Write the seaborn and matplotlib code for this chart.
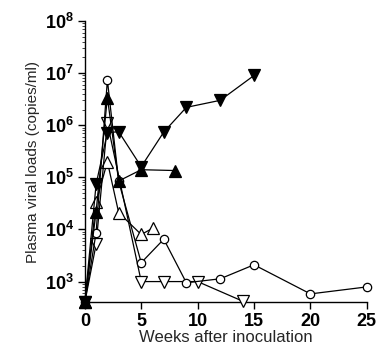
import matplotlib
matplotlib.use("Agg")
import matplotlib.pyplot as plt
import matplotlib.ticker as mticker
import seaborn as sns
import pandas as pd

# weeks / plasma viral load (copies/ml) per animal
CIRCLE_WEEKS = [0, 1, 2, 3, 5, 7, 9, 12, 15, 20, 25]
CIRCLE_LOAD = [400, 8.7e3, 7.4e6, 8.4e4, 2.3e3, 6.5e3, 950, 1130, 2100, 580, 790]

FDOWN_WEEKS = [0, 1, 2, 3, 5, 7, 9, 12, 15]
FDOWN_LOAD = [400, 7.4e4, 7.2e5, 7.5e5, 1.6e5, 7.4e5, 2.2e6, 3.0e6, 9.0e6]

FUP_WEEKS = [0, 1, 2, 3, 5, 8]
FUP_LOAD = [400, 2.2e4, 3.4e6, 8.5e4, 1.4e5, 1.35e5]

ODOWN_WEEKS = [0, 1, 2, 5, 7, 10, 14]
ODOWN_LOAD = [400, 5.2e3, 1.1e6, 1000, 1000, 1000, 420]

OUP_WEEKS = [0, 1, 2, 3, 5, 6]
OUP_LOAD = [400, 3.3e4, 2.0e5, 2.1e4, 8.0e3, 1.05e4]

X_TICKS = [0, 5, 10, 15, 20, 25]

sns.set_style("ticks")
plt.rcParams['font.family'] = ['Liberation Sans', 'DejaVu Sans']
plt.rcParams['mathtext.fontset'] = 'custom'
plt.rcParams['mathtext.rm'] = 'Liberation Sans'
plt.rcParams['mathtext.it'] = 'Liberation Sans:italic'
plt.rcParams['mathtext.bf'] = 'Liberation Sans:bold'

fig = plt.figure(figsize=(3.77, 3.53), dpi=100)
ax = fig.add_axes([0.225, 0.1436, 0.748, 0.797])

series = [
    (OUP_WEEKS, OUP_LOAD, '^', 'white'),
    (ODOWN_WEEKS, ODOWN_LOAD, 'v', 'white'),
    (CIRCLE_WEEKS, CIRCLE_LOAD, 'o', 'white'),
    (FUP_WEEKS, FUP_LOAD, '^', 'black'),
    (FDOWN_WEEKS, FDOWN_LOAD, 'v', 'black'),
]
for i, (wk, load, mk, fc) in enumerate(series):
    df = pd.DataFrame({"week": wk, "load": load})
    ms = 6 if mk == 'o' else 9
    sns.lineplot(data=df, x="week", y="load", ax=ax, color='black', lw=0.9,
                 marker=mk, markersize=ms, markerfacecolor=fc,
                 markeredgecolor='black', markeredgewidth=0.9,
                 clip_on=False, zorder=3 + i)

ax.set_yscale('log')
ax.set_ylim(400, 1e8)
ax.set_xlim(0, 25)
ax.set_xticks(X_TICKS)
ax.yaxis.set_major_locator(mticker.LogLocator(base=10, subs=[1.0], numticks=10))
ax.yaxis.set_minor_locator(mticker.LogLocator(base=10, subs=range(2, 10), numticks=10))
ax.yaxis.set_major_formatter(mticker.LogFormatterSciNotation())
ax.set_yticks([1e3, 1e4, 1e5, 1e6, 1e7, 1e8])

ax.tick_params(axis='both', which='major', direction='out', length=5, width=1,
               labelsize=13, colors='black', pad=3)
ax.tick_params(axis='y', which='minor', direction='out', length=2, width=0.6)
for lab in ax.get_xticklabels() + ax.get_yticklabels():
    lab.set_fontweight('bold')

for s in ['top', 'right']:
    ax.spines[s].set_visible(False)
for s in ['left', 'bottom']:
    ax.spines[s].set_linewidth(1)
    ax.spines[s].set_color('black')

ax.set_xlabel("Weeks after inoculation", fontsize=12, labelpad=0)
ax.set_ylabel("Plasma viral loads (copies/ml)", fontsize=11, labelpad=3)

fig.savefig("out.png", dpi=100)
